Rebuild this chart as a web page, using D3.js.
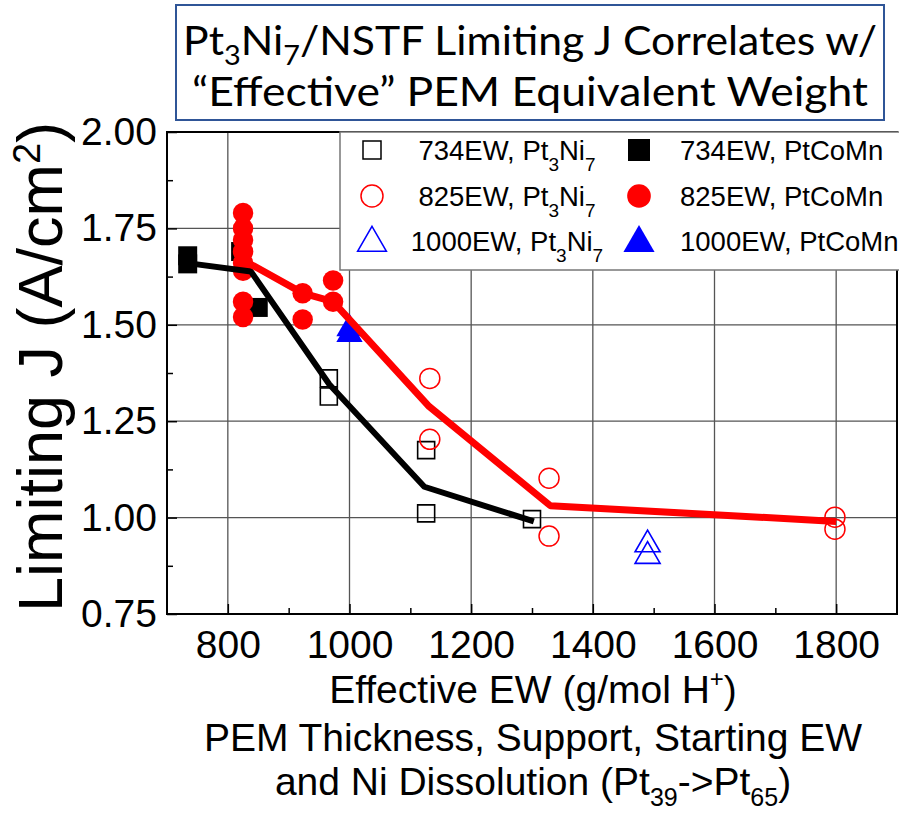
<!DOCTYPE html>
<html><head><meta charset="utf-8">
<script src="https://cdn.jsdelivr.net/npm/d3@7"></script>
<style>body{margin:0;background:#fff}svg{display:block}</style>
</head><body>
<svg id="chart" width="899" height="813"></svg>
<script>
// ---------- data ----------
const xTicks = [800, 1000, 1200, 1400, 1600, 1800];
const yTicks = [0.75, 1.00, 1.25, 1.50, 1.75, 2.00];
const open734 = [[966,1.361],[966,1.314],[1126,1.175],[1126,1.011],[1300,0.996]];
const fill734 = [[734,1.679],[734,1.658],[821,1.69],[850,1.545]];
const open825 = [[1132,1.361],[1132,1.203],[1328,1.102],[1328,0.952],[1798,1.001],[1798,0.970]];
const fill825 = [[825,1.79],[825,1.75],[825,1.72],[825,1.69],[825,1.66],[825,1.64],[825,1.56],[825,1.52],[923,1.582],[923,1.514],[973,1.615],[973,1.56]];
const open1000 = [[1490,0.93],[1490,0.90]];
const fill1000 = [[1000,1.49],[1000,1.475]];
const trend734 = [[734,1.66],[838,1.638],[967,1.345],[1123,1.08],[1303,0.99]];
const trend825 = [[825,1.668],[923,1.582],[973,1.56],[1131,1.288],[1330,1.031],[1800,0.99]];
const legendItems = [
  {ew:"734EW", cat:"Pt3Ni7", shape:"square", fill:false, color:"#000"},
  {ew:"734EW", cat:"PtCoMn", shape:"square", fill:true, color:"#000"},
  {ew:"825EW", cat:"Pt3Ni7", shape:"circle", fill:false, color:"#ff0000"},
  {ew:"825EW", cat:"PtCoMn", shape:"circle", fill:true, color:"#ff0000"},
  {ew:"1000EW", cat:"Pt3Ni7", shape:"triangle", fill:false, color:"#0000ff"},
  {ew:"1000EW", cat:"PtCoMn", shape:"triangle", fill:true, color:"#0000ff"}
];

// ---------- setup ----------
const svg = d3.select("#chart");
const FONT = "'Liberation Sans', Arial, sans-serif";
const L = 167, R = 897, T = 132, B = 614;
const x = d3.scaleLinear().domain([700, 1900]).range([L, R]);
const y = d3.scaleLinear().domain([0.75, 2.0]).range([B, T]);

// rich text helper: parts [text, mode] mode: 0 normal, 1 sub, 2 sup
function rich(textSel, parts, fs, subFs, subDy, supDy) {
  let shift = 0;
  parts.forEach(([t, m]) => {
    const ts = textSel.append("tspan").text(t);
    let target = m === 1 ? subDy : (m === 2 ? -supDy : 0);
    ts.attr("dy", target - shift);
    shift = target;
    ts.attr("font-size", m ? subFs : fs);
  });
}

// ---------- title ----------
const tg = svg.append("g");
tg.append("rect").attr("x", 176).attr("y", 5).attr("width", 708).attr("height", 115)
  .attr("fill", "#fff").attr("stroke", "#2f5597").attr("stroke-width", 2);
const t1 = tg.append("text").attr("x", 530).attr("y", 55).attr("text-anchor", "middle")
  .attr("font-family", "Lato, 'Open Sans', sans-serif").attr("fill", "#000")
  .attr("textLength", 694).attr("lengthAdjust", "spacingAndGlyphs");
rich(t1, [["Pt",0],["3",1],["Ni",0],["7",1],["/NSTF Limiting J Correlates w/",0]], 40, 27, 10, 0);
const t2 = tg.append("text").attr("x", 530).attr("y", 106).attr("text-anchor", "middle")
  .attr("font-family", "Lato, 'Open Sans', sans-serif").attr("fill", "#000").attr("font-size", 40)
  .attr("textLength", 676).attr("lengthAdjust", "spacingAndGlyphs")
  .text("\u201CEffective\u201D PEM Equivalent Weight");

// ---------- grid ----------
const grid = svg.append("g").attr("stroke", "#555").attr("stroke-width", 1.3);
grid.selectAll(".vg").data(xTicks).join("line")
  .attr("x1", d => x(d)).attr("x2", d => x(d)).attr("y1", T).attr("y2", B);
grid.selectAll(".hg").data(yTicks.filter(d => d > 0.75 && d < 2)).join("line")
  .attr("x1", L).attr("x2", R).attr("y1", d => y(d)).attr("y2", d => y(d));

// ---------- axes ----------
const yAxis = d3.axisLeft(y).tickValues(yTicks).tickFormat(d3.format(".2f")).tickSize(-10).tickPadding(10);
const yMinor = d3.axisLeft(y).tickValues([0.875,1.125,1.375,1.625,1.875]).tickSize(-6).tickFormat("");
const xAxis = d3.axisBottom(x).tickValues(xTicks).tickFormat(d3.format("d")).tickSize(-10).tickPadding(16);
const xMinor = d3.axisBottom(x).tickValues([900,1100,1300,1500,1700]).tickSize(-6).tickFormat("");
function styleAxis(g) {
  g.select(".domain").remove();
  g.selectAll("line").attr("stroke", "#000").attr("stroke-width", 1.5);
  g.selectAll("text").attr("font-family", FONT).attr("font-size", 39).attr("fill", "#000");
}
svg.append("g").attr("transform", `translate(${L},0)`).call(yAxis).call(styleAxis);
svg.append("g").attr("transform", `translate(${L},0)`).call(yMinor).call(styleAxis);
svg.append("g").attr("transform", `translate(0,${B})`).call(xAxis).call(styleAxis);
svg.append("g").attr("transform", `translate(0,${B})`).call(xMinor).call(styleAxis);
svg.append("rect").attr("x", L).attr("y", T).attr("width", R - L).attr("height", B - T)
  .attr("fill", "none").attr("stroke", "#000").attr("stroke-width", 2);

// ---------- markers ----------
const sym = (type, size) => d3.symbol().type(type).size(size)();
function markers(data, type, size, color, filled, sw) {
  svg.append("g").selectAll("path").data(data).join("path")
    .attr("transform", d => `translate(${x(d[0])},${y(d[1])})`)
    .attr("d", sym(type, size))
    .attr("fill", filled ? color : "none")
    .attr("stroke", filled ? "none" : color)
    .attr("stroke-width", sw || 1.5);
}
markers(fill734, d3.symbolSquare, 361, "#000", true);
markers(open734, d3.symbolSquare, 289, "#000", false, 1.6);
markers(open825, d3.symbolCircle, 314, "#ff0000", false, 1.5);
markers(fill825, d3.symbolCircle, 330, "#ff0000", true);
markers(open1000, d3.symbolTriangle, 271, "#0000ff", false, 1.6);
markers(fill1000, d3.symbolTriangle, 300, "#0000ff", true);

// ---------- trend lines ----------
const line = d3.line().x(d => x(d[0])).y(d => y(d[1]));
svg.append("path").attr("d", line(trend734)).attr("fill", "none").attr("stroke", "#000")
  .attr("stroke-width", 6).attr("stroke-linejoin", "round");
svg.append("path").attr("d", line(trend825)).attr("fill", "none").attr("stroke", "#ff0000")
  .attr("stroke-width", 7).attr("stroke-linejoin", "round");

// ---------- legend ----------
const lg = svg.append("g");
lg.append("rect").attr("x", 340).attr("y", 132).attr("width", 570).attr("height", 138)
  .attr("fill", "#fff").attr("stroke", "#777").attr("stroke-width", 1.5);
const rowY = [150, 196, 241];
const symSizes = {square:[324, 484], circle:[380, 440], triangle:[360, 420]};
legendItems.forEach((it, i) => {
  const row = Math.floor(i / 2), col = i % 2;
  const sx = col === 0 ? 372 : 639;
  const type = it.shape === "square" ? d3.symbolSquare : it.shape === "circle" ? d3.symbolCircle : d3.symbolTriangle;
  lg.append("path").attr("transform", `translate(${sx},${rowY[row] + (it.shape === "triangle" ? 2 : 0)})`)
    .attr("d", sym(type, symSizes[it.shape][it.fill ? 1 : 0]))
    .attr("fill", it.fill ? it.color : "none").attr("stroke", it.fill ? "none" : it.color)
    .attr("stroke-width", 1.5);
  const tx = lg.append("text").attr("y", rowY[row] + 10).attr("font-family", FONT).attr("fill", "#000");
  if (col === 0) tx.attr("x", 507).attr("text-anchor", "middle"); else tx.attr("x", 680);
  if (it.cat === "Pt3Ni7") rich(tx, [[it.ew + ", Pt",0],["3",1],["Ni",0],["7",1]], 27.5, 19, 11, 0);
  else rich(tx, [[it.ew + ", " + it.cat,0]], 27.5, 19, 0, 0);
});

// ---------- axis titles ----------
const yt = svg.append("text").attr("transform", "translate(62,612) rotate(-90)")
  .attr("font-family", FONT).attr("fill", "#000");
rich(yt, [["Limiting J (A/cm",0],["2",2],[")",0]], 63, 38, 0, 22);

const xt1 = svg.append("text").attr("x", 533).attr("y", 703).attr("text-anchor", "middle")
  .attr("font-family", FONT).attr("fill", "#000");
rich(xt1, [["Effective EW (g/mol H",0],["+",2],[")",0]], 39, 24, 0, 16);
svg.append("text").attr("x", 533).attr("y", 751).attr("text-anchor", "middle")
  .attr("font-family", FONT).attr("font-size", 39).attr("fill", "#000")
  .text("PEM Thickness, Support, Starting EW");
const xt3 = svg.append("text").attr("x", 533).attr("y", 795).attr("text-anchor", "middle")
  .attr("font-family", FONT).attr("fill", "#000");
rich(xt3, [["and Ni Dissolution (Pt",0],["39",1],["->Pt",0],["65",1],[")",0]], 39, 25, 11, 0);
</script>
</body></html>
